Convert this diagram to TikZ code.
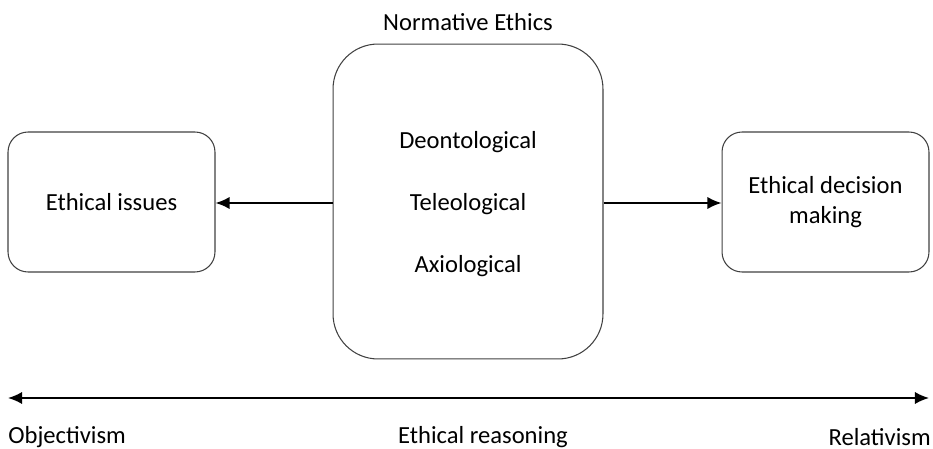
\documentclass[tikz,border=0pt]{standalone}
\usepackage{fontspec}
\setmainfont{Carlito}
\usetikzlibrary{arrows.meta}
\tikzset{
    sidebox/.style={draw=black!75, line width=0.6pt, rounded corners=0.4cm, minimum width=4.14cm, minimum height=2.8cm, align=center},
    midbox/.style={draw=black!75, line width=0.6pt, rounded corners=0.9cm, minimum width=5.4cm, minimum height=6.3cm},
    txt/.style={font=\fontsize{14}{17}\selectfont, align=center, inner sep=0pt},
    arr/.style={-{Latex[length=8pt,width=7pt]}, line width=1.1pt}
}
\begin{document}
\begin{tikzpicture}[x=0.02cm, y=-0.02cm]
        \useasboundingbox (0, 0) rectangle (933, 449);
        \node[sidebox, txt] (issues) at (111.5, 202) {Ethical issues};
        \node[midbox] (normative) at (468, 201.5) {};
        \node[sidebox, txt] (decision) at (825.5, 202) {Ethical decision\\making};
        \node[txt] (title) at (468, 22) {Normative Ethics};
        \node[txt] (deon) at (468, 142) {Deontological};
        \node[txt] (teleo) at (468, 204) {Teleological};
        \node[txt] (axio) at (468, 266) {Axiological};
        \draw[arr] (normative.west |- 0, 203) -- (issues.east |- 0, 203);
        \draw[arr] (normative.east |- 0, 203) -- (decision.west |- 0, 203);
        \coordinate (leftend) at (8, 398);
        \coordinate (rightend) at (929, 398);
        \draw[arr, {Latex[length=8pt,width=7pt]}-{Latex[length=8pt,width=7pt]}] (leftend) -- (rightend);
        \node[txt, anchor=west] (obj) at (8, 437) {Objectivism};
        \node[txt] (reason) at (483, 437) {Ethical reasoning};
        \node[txt, anchor=east] (rel) at (931, 437) {Relativism};
\end{tikzpicture}
\end{document}
